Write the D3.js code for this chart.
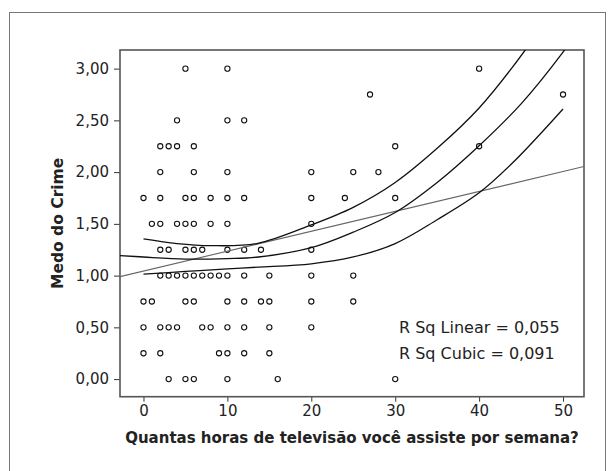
<!DOCTYPE html>
<html>
<head>
<meta charset="utf-8">
<script src="https://cdn.jsdelivr.net/npm/d3@7/dist/d3.min.js"></script>
<style>
  html, body { margin: 0; padding: 0; background: #fff; }
  svg { display: block; }
  text { font-family: "DejaVu Sans", sans-serif; fill: #222; }
</style>
</head>
<body>
<svg id="chart" width="615" height="471"></svg>
<script>
// ---- Data ----
const hours = [
  5, 10, 40,
  27, 50,
  4, 10, 12,
  2, 3, 4, 6, 30, 40,
  2, 6, 10, 20, 25, 28,
  0, 2, 5, 6, 8, 10, 12, 20, 24, 30,
  1, 2, 4, 5, 6, 8, 10, 20,
  2, 3, 5, 6, 7, 10, 12, 14, 20,
  2, 3, 4, 5, 6, 7, 8, 9, 10, 12, 15, 20, 25,
  0, 1, 5, 6, 10, 12, 14, 15, 20, 25,
  0, 2, 3, 4, 7, 8, 10, 12, 15, 20,
  0, 2, 9, 10, 12, 15,
  3, 5, 6, 10, 16, 30
];
const fear = [
  3, 3, 3,
  2.75, 2.75,
  2.5, 2.5, 2.5,
  2.25, 2.25, 2.25, 2.25, 2.25, 2.25,
  2, 2, 2, 2, 2, 2,
  1.75, 1.75, 1.75, 1.75, 1.75, 1.75, 1.75, 1.75, 1.75, 1.75,
  1.5, 1.5, 1.5, 1.5, 1.5, 1.5, 1.5, 1.5,
  1.25, 1.25, 1.25, 1.25, 1.25, 1.25, 1.25, 1.25, 1.25,
  1, 1, 1, 1, 1, 1, 1, 1, 1, 1, 1, 1, 1,
  0.75, 0.75, 0.75, 0.75, 0.75, 0.75, 0.75, 0.75, 0.75, 0.75,
  0.5, 0.5, 0.5, 0.5, 0.5, 0.5, 0.5, 0.5, 0.5, 0.5,
  0.25, 0.25, 0.25, 0.25, 0.25, 0.25,
  0, 0, 0, 0, 0, 0
];

// Linear fit line (end points)
const linearX = [-2.8, 52.5];
const linearY = [0.99, 2.054];

// Cubic fit line
const cubicX = [-2.8, 0, 5, 10, 13.7, 20, 25, 30, 35, 40, 45, 50, 52.5];
const cubicY = [1.194, 1.18, 1.16, 1.165, 1.18, 1.27, 1.42, 1.61, 1.90, 2.255, 2.66, 3.16, 3.45];

// Upper 95% band of cubic fit
const upperX = [0, 4, 8, 13.5, 20, 25, 30, 35, 40, 45.5, 50];
const upperY = [1.355, 1.31, 1.29, 1.31, 1.49, 1.66, 1.90, 2.23, 2.62, 3.18, 3.72];

// Lower 95% band of cubic fit
const lowerX = [0, 5, 10, 13.7, 20, 25, 30, 35, 40, 44, 50];
const lowerY = [1.014, 1.04, 1.065, 1.082, 1.114, 1.18, 1.31, 1.54, 1.80, 2.09, 2.61];

const xTicks = [0, 10, 20, 30, 40, 50];
const yTicks = [0, 0.5, 1, 1.5, 2, 2.5, 3];
const yTickLabels = ["0,00", "0,50", "1,00", "1,50", "2,00", "2,50", "3,00"];

const xTitle = "Quantas horas de televisão você assiste por semana?";
const yTitle = "Medo do Crime";
const rsqLines = ["R Sq Linear = 0,055", "R Sq Cubic = 0,091"];

// ---- Layout ----
const svg = d3.select("#chart");
const plot = { left: 120, right: 584, top: 50, bottom: 396.7 };

// outer frame
svg.append("rect")
  .attr("x", 9.5).attr("y", 12.5)
  .attr("width", 596).attr("height", 470)
  .attr("fill", "none").attr("stroke", "#777").attr("stroke-width", 1);

const x = d3.scaleLinear().domain([-2.8, 52.5]).range([plot.left, plot.right]);
const y = d3.scaleLinear().domain([-0.17, 3.18]).range([plot.bottom, plot.top]);

svg.append("defs").append("clipPath").attr("id", "clip")
  .append("rect")
  .attr("x", plot.left).attr("y", plot.top)
  .attr("width", plot.right - plot.left).attr("height", plot.bottom - plot.top);

// axes
const yAxis = d3.axisLeft(y).tickValues(yTicks)
  .tickFormat((d, i) => yTickLabels[i]).tickSize(6).tickPadding(5);
const gy = svg.append("g").attr("transform", `translate(${plot.left},0)`).call(yAxis);
gy.select(".domain").remove();
gy.selectAll("line").attr("stroke", "#333").attr("stroke-width", 1);
gy.selectAll("text").attr("font-size", 15).attr("fill", "#222")
  .style("font-family", '"DejaVu Sans", sans-serif');

const xAxis = d3.axisBottom(x).tickValues(xTicks).tickSize(5).tickPadding(4);
const gx = svg.append("g").attr("transform", `translate(0,${plot.bottom})`).call(xAxis);
gx.select(".domain").remove();
gx.selectAll("line").attr("stroke", "#333").attr("stroke-width", 1);
gx.selectAll("text").attr("font-size", 15).attr("fill", "#222")
  .style("font-family", '"DejaVu Sans", sans-serif');

// plot frame
svg.append("rect")
  .attr("x", plot.left).attr("y", plot.top)
  .attr("width", plot.right - plot.left).attr("height", plot.bottom - plot.top)
  .attr("fill", "none").attr("stroke", "#555").attr("stroke-width", 1.6);

const gPlot = svg.append("g").attr("clip-path", "url(#clip)");

// points
gPlot.selectAll("circle").data(d3.range(hours.length)).join("circle")
  .attr("cx", i => x(hours[i]))
  .attr("cy", i => y(fear[i]))
  .attr("r", 2.6)
  .attr("fill", "none").attr("stroke", "#111").attr("stroke-width", 1.1);

const line = d3.line().x(d => x(d[0])).y(d => y(d[1])).curve(d3.curveCatmullRom.alpha(0.5));
const zipXY = (xs, ys) => xs.map((v, i) => [v, ys[i]]);

gPlot.append("path").datum(zipXY(linearX, linearY))
  .attr("d", d3.line().x(d => x(d[0])).y(d => y(d[1])))
  .attr("fill", "none").attr("stroke", "#666").attr("stroke-width", 1.1);

[[cubicX, cubicY], [upperX, upperY], [lowerX, lowerY]].forEach(([xs, ys]) => {
  gPlot.append("path").datum(zipXY(xs, ys))
    .attr("d", line)
    .attr("fill", "none").attr("stroke", "#111").attr("stroke-width", 1.3);
});

// R square annotations
svg.selectAll("text.rsq").data(rsqLines).join("text")
  .attr("class", "rsq")
  .attr("x", 399).attr("y", (d, i) => 333 + i * 26)
  .attr("font-size", 16)
  .text(d => d);

// axis titles
svg.append("text")
  .attr("x", (plot.left + plot.right) / 2).attr("y", 443)
  .attr("text-anchor", "middle").attr("font-size", 15).attr("font-weight", "bold")
  .text(xTitle);

svg.append("text")
  .attr("transform", `translate(63,${(plot.top + plot.bottom) / 2}) rotate(-90)`)
  .attr("text-anchor", "middle").attr("font-size", 15.5).attr("font-weight", "bold")
  .text(yTitle);
</script>
</body>
</html>
